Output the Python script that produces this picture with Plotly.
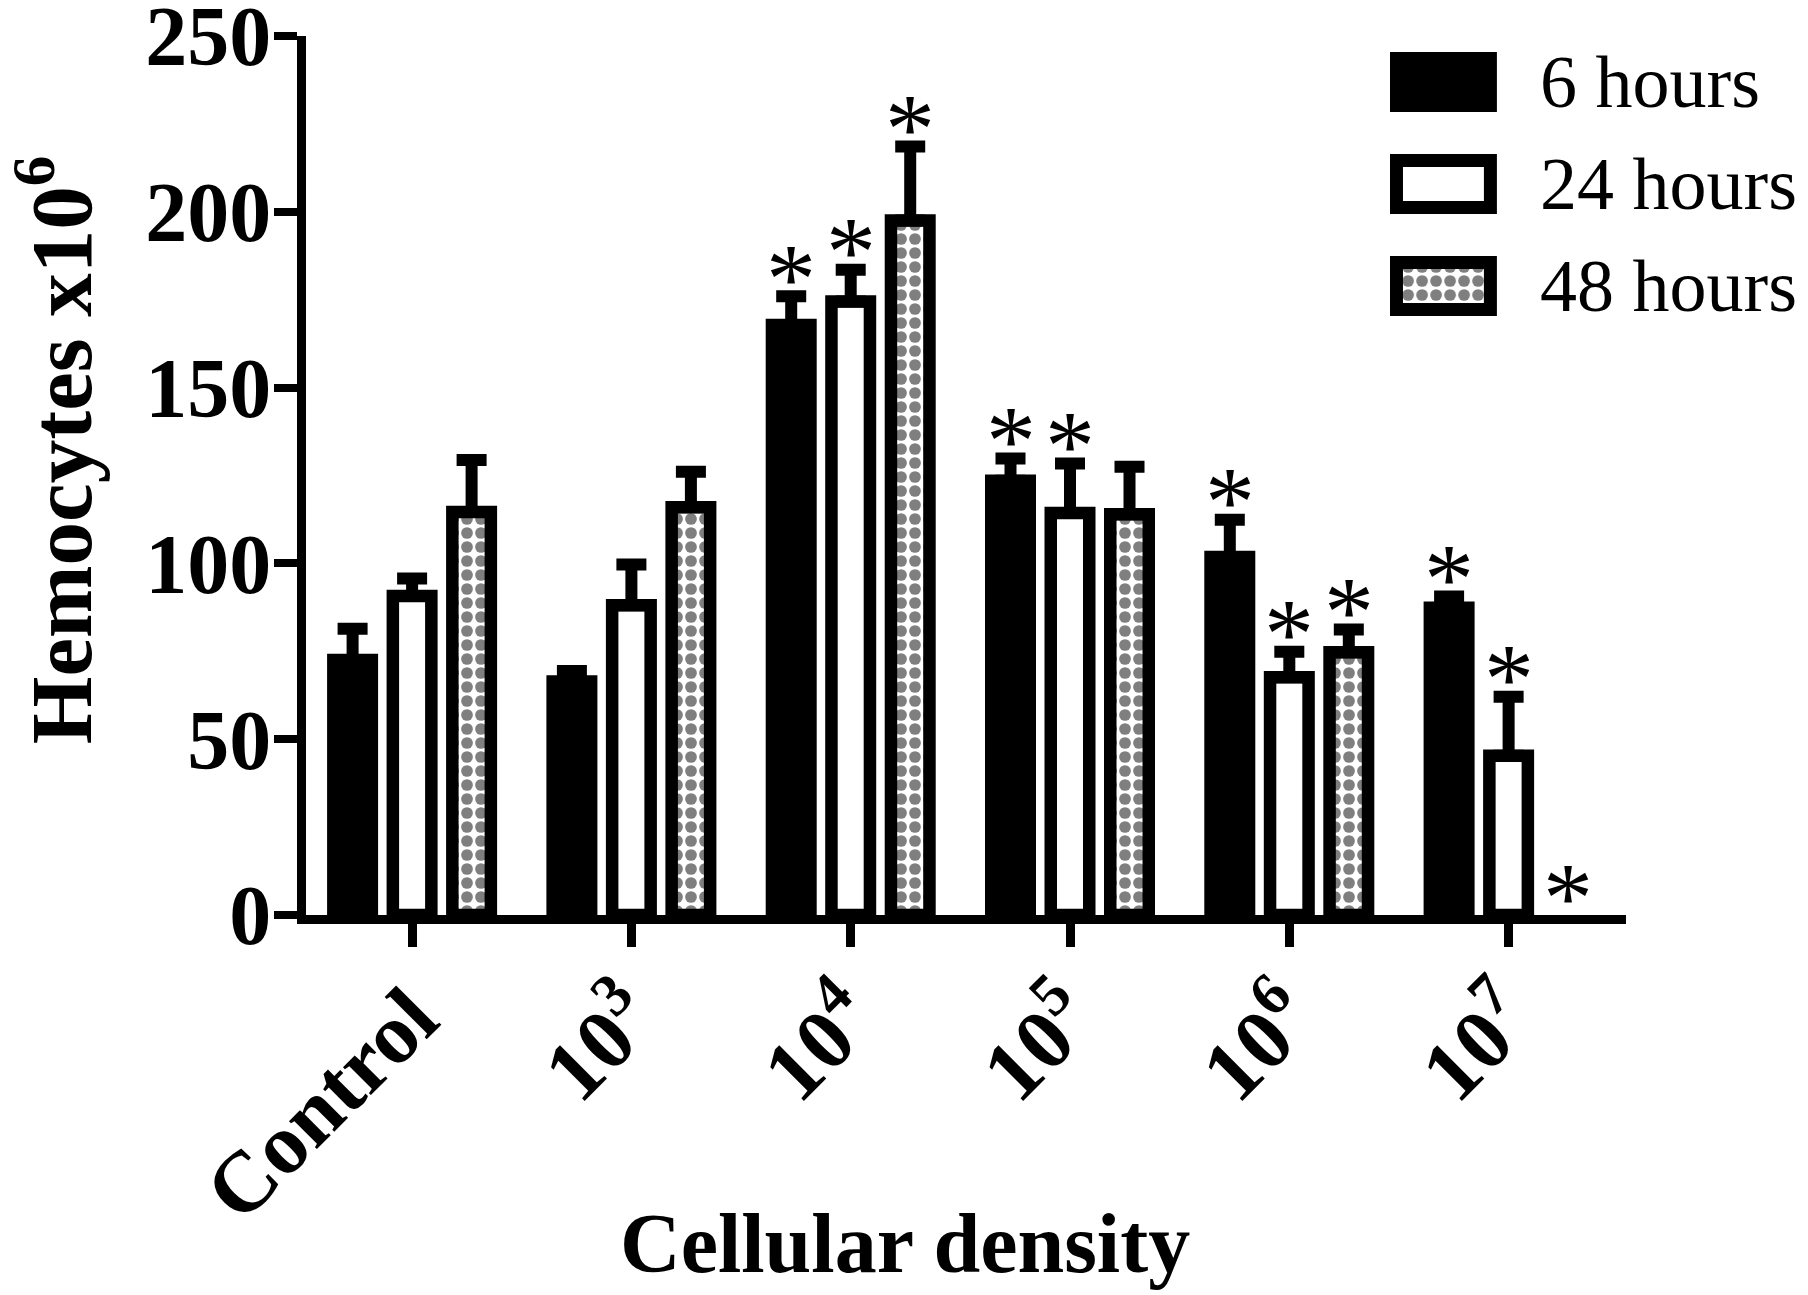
import plotly.graph_objects as go

# hemocyte counts (x10^6) by cellular density, three exposure times
categories = ["Control", "10<sup>3</sup>", "10<sup>4</sup>", "10<sup>5</sup>", "10<sup>6</sup>", "10<sup>7</sup>"]
series_names = ["6 hours", "24 hours", "48 hours"]

mean_6h = [72.5, 66.4, 167.8, 123.5, 101.8, 87.4]
err_6h = [8.9, 3.0, 8.2, 6.3, 10.6, 3.2]
mean_24h = [90.7, 88.1, 174.5, 114.3, 67.6, 45.3]
err_24h = [5.0, 11.6, 9.0, 14.1, 7.3, 16.8]
mean_48h = [114.6, 116.0, 197.5, 114.0, 74.7, None]
err_48h = [14.8, 10.1, 21.1, 13.5, 6.5, None]

# significance marks (*) per bar
sig_6h = [0, 0, 1, 1, 1, 1]
sig_24h = [0, 0, 1, 1, 1, 1]
sig_48h = [0, 0, 1, 0, 1, 1]

y_ticks = [0, 50, 100, 150, 200, 250]

FONT = "Liberation Serif"
LINE_W = 12.5
SLOT = 0.2713  # distance between bars of one group (category units)

# the page body has an 8px margin, so the figure is made 8px smaller
W, H = 1800, 1287
ML, MR, MT, MB = 298, 182, 28, 380

series = [
    (mean_6h, err_6h, sig_6h, dict(color="black")),
    (mean_24h, err_24h, sig_24h, dict(color="white")),
    (mean_48h, err_48h, sig_48h,
     dict(color="white", pattern=dict(shape=".", size=14, solidity=0.55,
                                      fgcolor="black", bgcolor="white"))),
]

fig = go.Figure()

for name, (means, errs, _, mk) in zip(series_names, series):
    fig.add_trace(go.Bar(
        x=categories, y=means, name=name, showlegend=False,
        marker=dict(line=dict(color="black", width=LINE_W), **mk),
        error_y=dict(type="data", array=errs, arrayminus=[0] * len(errs),
                     symmetric=False, color="black", thickness=12, width=15),
    ))

# asterisks above significant bars
annotations = []
for j, (means, errs, sigs, _) in enumerate(series):
    for i, s in enumerate(sigs):
        if not s:
            continue
        top = (means[i] or 0) + (errs[i] or 0)
        annotations.append(dict(
            x=i + (j - 1) * SLOT, y=top, xref="x", yref="y", text="*",
            showarrow=False, yanchor="middle", yshift=18,
            font=dict(family=FONT, size=100, color="black"),
        ))

# hand-made legend on its own small axes so the swatches can be large
for k, (name, (_, _, _, mk)) in enumerate(zip(series_names, series)):
    fig.add_trace(go.Bar(
        x=[1], y=[k], base=0, orientation="h", xaxis="x2", yaxis="y2",
        width=0.461, offset=-0.2305, showlegend=False, hoverinfo="skip",
        marker=dict(line=dict(color="black", width=13), **mk),
    ))
    annotations.append(dict(
        x=0.9333, y=k, xref="paper", yref="y2", text=name, showarrow=False,
        xanchor="left", yanchor="middle",
        font=dict(family=FONT, size=74, color="black"),
    ))

annotations.append(dict(
    x=0.4536, y=-0.374, xref="paper", yref="paper", text="Cellular density",
    showarrow=False, xanchor="center", yanchor="middle",
    font=dict(family=FONT, size=84, color="black", weight="bold"),
))
annotations.append(dict(
    x=-0.19, y=0.529, xref="paper", yref="paper", text="Hemocytes x10<sup>6</sup>",
    showarrow=False, textangle=-90, xanchor="center", yanchor="middle",
    font=dict(family=FONT, size=87, color="black", weight="bold"),
))

fig.update_layout(
    width=W, height=H,
    margin=dict(l=ML, r=MR, t=MT, b=MB, autoexpand=False),
    paper_bgcolor="white", plot_bgcolor="white",
    barmode="group", bargap=0.186, bargroupgap=0.353,
    showlegend=False,
    annotations=annotations,
    xaxis=dict(
        type="category", range=[-0.4838, 5.5353], automargin=False,
        showline=True, linewidth=9, linecolor="black",
        ticks="outside", ticklen=23, tickwidth=9, tickcolor="black",
        tickangle=-45, showgrid=False, zeroline=False,
        ticklabelstandoff=-14,
        tickfont=dict(family=FONT, size=86, color="black", weight="bold"),
    ),
    yaxis=dict(
        range=[0, 250], tickvals=y_ticks, automargin=False,
        showline=True, linewidth=9, linecolor="black",
        ticks="outside", ticklen=23, tickwidth=8, tickcolor="black",
        showgrid=False, zeroline=False,
        ticklabeloverflow="allow", ticklabelstandoff=-14,
        tickfont=dict(family=FONT, size=84, color="black", weight="bold"),
    ),
    xaxis2=dict(domain=[0.8190, 0.9044], range=[-0.1, 1.1], anchor="y2", visible=False),
    yaxis2=dict(domain=[0.6517, 1.0], range=[2.55, -0.45], anchor="x2", visible=False),
)

fig.write_html("out.html")
